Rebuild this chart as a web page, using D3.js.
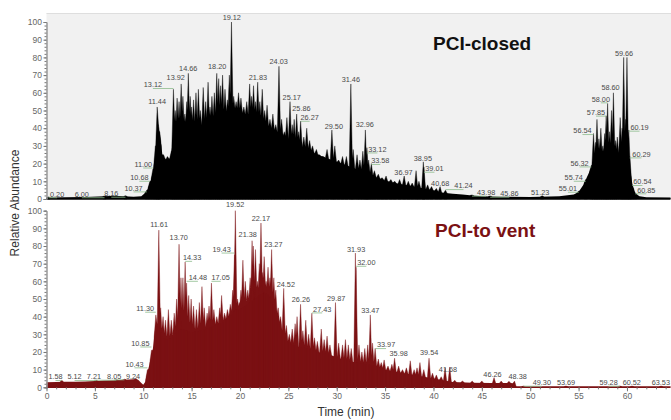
<!DOCTYPE html>
<html>
<head>
<meta charset="utf-8">
<script src="https://cdn.jsdelivr.net/npm/d3@7"></script>
<style>
  body { margin: 0; background: #fff; }
  svg { display: block; font-family: "Liberation Sans", Arial, sans-serif; }
</style>
</head>
<body>
<svg id="chart" width="671" height="420"></svg>
<script>
// ---- Time axis ----
const timeDomain = [0, 64.5];
const timeTicks = [0, 5, 10, 15, 20, 25, 30, 35, 40, 45, 50, 55, 60];
const abundanceTicks = [0, 10, 20, 30, 40, 50, 60, 70, 80, 90, 100];

// ---- PCI-closed run ----
// dense unresolved background (time min, relative abundance %)
const closedBackground = [
  [0,0.8],[2,1.0],[4,1.2],[6,1.5],[7,1.8],[8,1.5],[9,1.3],[9.8,1.5],[10.1,3],[10.4,5],
  [10.7,9],[11.0,15],[11.3,28],[11.45,42],[11.6,40],[11.8,33],[12.0,24],[12.4,22],[12.8,23],
  [13.0,30],[13.2,36],[13.6,38],[14,39],[15,38],[16,40],[17,42],[18,44],[19,48],[19.6,50],
  [20.2,48],[21,46],[22,44],[23,40],[24,37],[25,33],[26,30],[27,28],[28,25],[29,23],[30,21],
  [31,19],[32,17],[33,15],[34,12.5],[35,10.5],[36,9],[37,8],[38,7],[39,6],[40,5],[41,3.5],
  [42,3],[43,2.5],[44,2],[45,1.6],[47,1.3],[50,1.2],[53,1.5],[54.5,2.5],[55,4],[55.5,8],
  [56,14],[56.5,20],[57,22],[58,24],[59,24],[59.8,26],[60.2,22],[60.4,14],[60.6,7],
  [60.9,3],[61.3,1.5],[62,1],[64.5,0.8]
];
// resolved peaks (time min, relative abundance %)
const closedPeaks = [
  [0.20,1.2],[6.00,1.6],[8.16,1.9],
  [10.37,5],[10.68,10],[11.00,17],[11.25,30],[11.44,52],[11.55,42],[11.7,38],[12.1,25],[12.5,24],[12.9,27],
  [13.12,62],[13.3,50],[13.5,57],[13.7,55],[13.92,65],[14.1,58],[14.3,48],[14.5,55],[14.66,71],
  [14.85,58],[15.0,52],[15.2,56],[15.45,60],[15.7,62],[15.9,50],[16.2,63],[16.45,55],[16.7,66],
  [16.9,52],[17.1,58],[17.35,60],[17.6,71],[17.8,68],[18.0,64],[18.20,70],[18.45,62],[18.7,56],
  [18.9,70],[19.12,100],[19.35,58],
  [19.6,55],[19.85,60],[20.1,57],[20.4,52],[20.7,55],[21.0,65],[21.2,58],[21.4,64],[21.6,55],
  [21.83,66],[22.05,55],[22.3,62],[22.55,50],[22.8,53],[23.1,45],[23.4,48],[23.7,42],[24.03,75],
  [24.3,45],[24.6,38],[24.85,46],[25.17,55],[25.4,42],[25.6,45],[25.86,48],[26.05,38],[26.27,44],
  [26.6,35],[26.9,40],[27.2,33],[27.5,30],[27.9,28],[28.2,25],[28.6,24],[29.0,28],[29.50,39],
  [29.8,30],[30.2,22],[30.6,24],[31.0,24],
  [31.46,65],[31.7,28],[32.1,25],[32.4,22],[32.7,27],[32.96,39],[33.12,29],[33.3,22],[33.58,20],
  [33.9,16],[34.3,14],[34.7,12],[35.1,13],[35.6,11],[36.0,10],[36.5,11],[36.97,13],[37.4,10],
  [37.8,9],[38.2,16],[38.5,10],[38.95,21],[39.01,18],[39.4,8],[39.8,7],[40.3,6],[40.68,7],
  [41.24,5],[43.98,2.3],[45.86,1.7],[51.23,1.8],
  [55.01,4.5],[55.74,11],[56.32,19],[56.54,37],[56.75,32],[56.9,45],[57.1,34],[57.3,40],[57.5,30],
  [57.7,37],[57.85,47],[58.00,54],[58.2,38],[58.4,50],[58.60,60],[58.8,33],[59.0,35],[59.3,46],
  [59.5,40],[59.66,80],[59.85,45],[60.0,80],[60.19,39],[60.29,24],[60.54,8],[60.85,3.5]
];
// peak annotations: [retention time text, anchor time, anchor abundance]
const closedLabels = [
  ["0.20",1.1,1.4],["6.00",3.65,1.4],["8.16",6.7,1.7],["10.37",9.0,4.7],["10.68",9.6,10.7],
  ["11.00",10.0,18.2],["11.44",11.43,53.5],["13.12",11.0,63.1],["13.92",13.36,67.2],
  ["14.66",14.65,72.5],["18.20",17.64,73.3],["19.12",19.15,101.1],["21.83",21.85,67.2],
  ["24.03",24.0,76],["25.17",25.35,56],["25.86",26.35,49.9],["26.27",27.2,44.6],
  ["29.50",29.7,39.5],["31.46",31.46,66.3],["32.96",32.9,40.5],["33.12",34.2,26.7],
  ["33.58",34.5,20.2],["36.97",36.9,13.6],["38.95",38.9,21.5],["39.01",40.1,15.8],
  ["40.68",40.7,7.3],["41.24",43.1,6],["43.98",45.45,2.3],["45.86",47.85,1.7],
  ["51.23",51.03,2.3],["55.01",53.9,4.5],["55.74",54.5,10.7],["56.32",55.1,18.8],
  ["56.54",55.4,37.1],["57.85",56.8,47.5],["58.00",57.3,55],["58.60",58.3,61.6],
  ["59.66",59.7,80.8],["60.19",61.3,39],["60.29",61.5,23.9],["60.54",61.6,8.3],["60.85",62.0,3.6]
];

// ---- PCI-to vent run ----
const ventBackground = [
  [0,2.8],[1,3.0],[2,3.2],[3,3.2],[4,3.3],[5,3.6],[6,3.8],[7,4.0],[8,4.3],[9,4.6],[9.5,4.2],
  [9.8,2.5],[10.0,1.5],[10.2,3],[10.4,8],[10.6,12],[10.85,18],[11.0,22],[11.2,32],[11.5,35],
  [11.8,33],[12.0,28],[12.5,27],[13,28],[13.5,32],[14,33],[15,31],[16,32],[17,34],[18,36],
  [19,40],[19.5,44],[20,44],[21,48],[22,52],[22.5,54],[23,52],[23.5,46],[24,36],[24.5,30],
  [25,25],[26,23],[27,22],[28,20],[29,19],[30,17],[31,15],[32,14],[33,13],[34,12],[35,10],
  [36,9],[37,8],[38,7],[39,6],[40,5],[41,4],[42,3],[44,2.6],[46,2.4],[48,2.4],[48.35,2.2],
  [48.45,0.4],[50,0.4],[64.5,0.4]
];
const ventPeaks = [
  [1.58,4],[5.12,4],[7.21,4.3],[8.05,4.6],[9.24,5],
  [10.43,10],[10.85,21],[11.30,41],[11.45,36],[11.61,89],[11.8,45],[12.05,40],[12.3,38],[12.6,44],
  [12.9,38],[13.2,42],[13.45,50],[13.70,81],[13.9,62],[14.1,62],[14.33,71],[14.48,59],[14.7,52],
  [14.95,50],[15.2,46],[15.5,44],[15.8,48],[16.07,57],[16.3,45],[16.6,42],[16.8,46],[17.05,59],
  [17.3,44],[17.6,40],[17.9,45],[18.1,52],[18.4,42],[18.7,44],[19.0,47],[19.25,55],[19.43,75],
  [19.52,100],[19.75,50],[19.95,48],[20.1,55],[20.3,72],[20.55,60],[20.8,55],[21.05,62],[21.25,83],
  [21.38,80],[21.6,78],[21.8,60],[22.0,70],[22.17,93],[22.35,65],[22.5,74],[22.7,60],[22.9,68],
  [23.1,62],[23.27,78],[23.5,62],[23.7,55],[23.95,45],[24.2,40],[24.52,56],[24.8,35],[25.1,30],
  [25.4,33],[25.7,36],[25.9,40],[26.26,47],[26.5,32],[26.8,38],[27.1,30],[27.43,42],[27.7,28],
  [28.0,26],[28.4,33],[28.7,27],[29.0,29],[29.3,24],[29.87,48],[30.2,25],[30.6,24],[30.9,27],
  [31.2,24],[31.5,22],[31.93,76],[32.00,68],[32.3,24],[32.6,20],[32.9,22],[33.2,24],[33.47,41],
  [33.7,25],[33.97,22],[34.3,16],[34.6,14],[34.9,15.5],[35.3,12],[35.7,13],[35.98,16.5],[36.4,12],
  [36.8,10],[37.2,11],[37.6,15],[38.0,10],[38.3,11],[38.6,14],[39.0,10],[39.54,16.5],[39.9,8],
  [40.3,7],[40.8,6],[41.2,11],[41.68,11.5],[42.2,4],[43,3.5],[44,3.5],[45,3.6],[46.26,5.5],
  [47,3.5],[47.8,3.4],[48.38,3.5],
  [49.30,0.7],[53.69,0.7],[59.28,0.7],[60.52,0.7],[63.53,0.7]
];
const ventLabels = [
  ["1.58",0.93,4.5],["5.12",2.9,4.5],["7.21",4.9,4.7],["8.05",7.0,4.9],["9.24",8.94,4.7],
  ["10.43",9.1,11.7],["10.85",9.7,23.5],["11.30",10.2,43.2],["11.61",11.64,90.5],
  ["13.70",13.67,83.4],["14.33",15.05,72],["14.48",15.65,60.7],["17.05",18.0,60.7],
  ["19.43",18.1,76.7],["19.52",19.5,102.2],["21.38",20.8,85.2],["22.17",22.16,94.3],
  ["23.27",23.45,79.6],["24.52",24.74,57],["26.26",26.3,48.5],["27.43",28.5,42.8],
  ["29.87",29.94,49],["31.93",32.0,76.4],["32.00",33.06,69.2],["33.47",33.47,41.9],
  ["33.97",35.1,22.6],["35.98",36.4,17.9],["39.54",39.55,18.3],["41.68",41.5,8.8],
  ["46.26",46.1,5.7],["48.38",48.7,4.5],["49.30",51.2,1.3],["53.69",53.7,1.3],
  ["59.28",58.1,1.3],["60.52",60.5,1.3],["63.53",63.5,1.3]
];

const svg = d3.select("#chart");
const x = d3.scaleLinear().domain(timeDomain).range([46.5, 670.5]);

function drawPanel(opts) {
  const g = svg.append("g");
  const y = d3.scaleLinear().domain([0, 100]).range(opts.yRange);

  if (opts.bg) {
    g.append("rect")
      .attr("x", 46.5).attr("y", opts.bgTop)
      .attr("width", 671 - 46.5).attr("height", opts.yRange[0] - opts.bgTop)
      .attr("fill", "#f1f1f1");
    g.append("line")
      .attr("x1", 46.5).attr("x2", 671).attr("y1", opts.bgTop + 0.5).attr("y2", opts.bgTop + 0.5)
      .attr("stroke", "#dedede");
  }

  // background hump
  const area = d3.area()
    .x(d => x(d[0])).y0(y(0)).y1(d => y(d[1]));
  g.append("path").datum(opts.background)
    .attr("d", area).attr("fill", opts.color);

  // resolved peaks sitting on the background
  const bgAt = d3.scaleLinear()
    .domain(opts.background.map(d => d[0]))
    .range(opts.background.map(d => d[1]))
    .clamp(true);
  const hw = 0.17;
  const spike = d3.line();
  const dPeaks = opts.peaks.map(([t, v]) => {
    const l = t - hw, r = t + hw;
    return spike([
      [x(l), y(0)], [x(l), y(Math.min(bgAt(l), v))], [x(t), y(v)],
      [x(r), y(Math.min(bgAt(r), v))], [x(r), y(0)]
    ]) + "Z";
  }).join("");
  g.append("path").attr("d", dPeaks).attr("fill", opts.color)
    .attr("stroke", opts.color).attr("stroke-width", 0.4);

  // baseline
  g.append("line")
    .attr("x1", 46.5).attr("x2", 670.5).attr("y1", y(0)).attr("y2", y(0))
    .attr("stroke", opts.color).attr("stroke-width", 1.6);

  // annotations
  const lab = g.append("g").attr("font-size", 7.3).attr("fill", "#4a4a4a");
  opts.labels.forEach(([txt, t, v]) => {
    const rt = +txt;
    const lx = x(t), ly = y(v);
    if (Math.abs(x(rt) - lx) > 6) {
      g.append("line")
        .attr("x1", lx).attr("x2", x(rt))
        .attr("y1", ly + 1.2).attr("y2", ly + 1.2)
        .attr("stroke", "#8dbb8d").attr("stroke-width", 0.8);
    }
    lab.append("text").attr("x", lx).attr("y", ly)
      .attr("text-anchor", "middle").text(txt);
  });

  // abundance axis
  const ax = g.append("g").attr("transform", "translate(46.5,0)");
  ax.call(d3.axisLeft(y).tickValues(abundanceTicks).tickSize(3).tickPadding(1.5));
  ax.append("g").call(d3.axisLeft(y).tickValues(d3.range(0, 101, 2)).tickSize(2).tickFormat(""));
  ax.selectAll(".domain").attr("stroke", "#999");
  ax.selectAll(".tick line").attr("stroke", "#777");
  ax.selectAll("text").attr("font-size", 8.5).attr("fill", "#666")
    .attr("font-family", "Liberation Sans, Arial, sans-serif");

  // run name
  svg.append("text").attr("x", opts.title[1]).attr("y", opts.title[2])
    .attr("font-size", 19).attr("font-weight", "bold").attr("fill", opts.titleColor)
    .text(opts.title[0]);
  return y;
}

drawPanel({
  yRange: [199, 22], bg: true, bgTop: 13, color: "#000",
  background: closedBackground, peaks: closedPeaks, labels: closedLabels,
  title: ["PCI-closed", 433, 50], titleColor: "#111"
});
const yVent = drawPanel({
  yRange: [387.3, 210.7], bg: false, color: "#7b1113",
  background: ventBackground, peaks: ventPeaks, labels: ventLabels,
  title: ["PCI-to vent", 435, 237], titleColor: "#7b1113"
});

// time axis
const tx = svg.append("g").attr("transform", `translate(0,${yVent(0)})`);
tx.call(d3.axisBottom(x).tickValues(timeTicks).tickSize(4).tickPadding(2));
tx.append("g").call(d3.axisBottom(x).tickValues(d3.range(0, 65, 1)).tickSize(2).tickFormat(""));
tx.selectAll(".domain").remove();
tx.selectAll(".tick line").attr("stroke", "#777");
tx.selectAll("text").attr("font-size", 8.5).attr("fill", "#666")
  .attr("font-family", "Liberation Sans, Arial, sans-serif");

// axis titles
svg.append("text").attr("x", 346).attr("y", 416).attr("text-anchor", "middle")
  .attr("font-size", 12).attr("fill", "#333").text("Time (min)");
svg.append("text").attr("transform", "translate(18.5,203) rotate(-90)")
  .attr("text-anchor", "middle").attr("font-size", 12).attr("fill", "#333")
  .text("Relative Abundance");
</script>
</body>
</html>
